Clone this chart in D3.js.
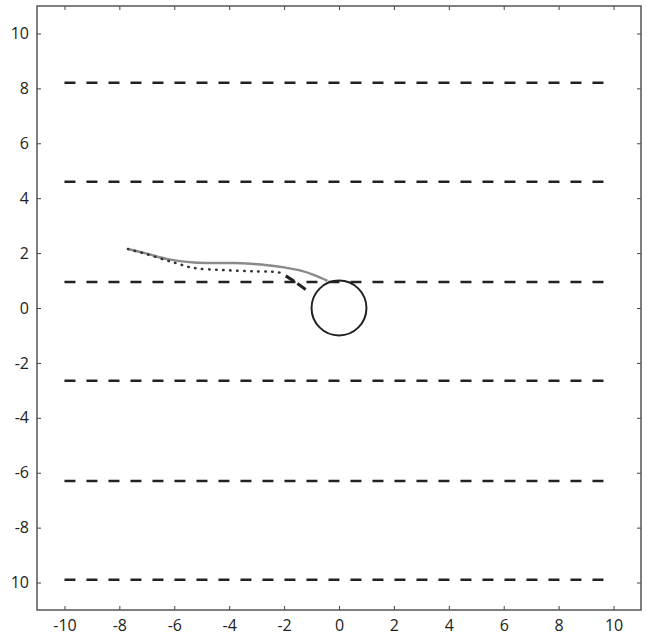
<!DOCTYPE html>
<meta charset="utf-8">
<style>
  html, body { margin: 0; padding: 0; background: #fff; }
  .tick text { font-family: "Open Sans", "Noto Sans", sans-serif; font-size: 16px; fill: #222; }
</style>
<body>
<script src="https://cdn.jsdelivr.net/npm/d3@7"></script>
<script>

  var width = 647, height = 637;

  // tick values / labels
  var xTicks = [-10, -8, -6, -4, -2, 0, 2, 4, 6, 8, 10];
  var yTicks = [10, 8, 6, 4, 2, 0, -2, -4, -6, -8, -10];
  var yTickLabels = ["10", "8", "6", "4", "2", "0", "-2", "-4", "-6", "-8", "10"];

  // lane markings (dashed horizontal lines)
  var laneY = [8.2, 4.6, 0.95, -2.65, -6.3, -9.9];
  var laneStart = -10, laneEnd = 10;

  // obstacle
  var obstacle = {x: 0, y: 0, r: 1};

  // solid grey path
  var pathX = [-7.69, -7.0, -6.24, -5.27, -4.5, -3.82, -3.2, -2.61, -2.0, -1.39, -0.9, -0.42];
  var pathY = [2.15, 1.98, 1.78, 1.66, 1.64, 1.64, 1.61, 1.56, 1.48, 1.36, 1.2, 0.99];

  // dotted path
  var dotX = [-7.69, -7.0, -6.3, -5.88, -5.5, -5.15, -4.42, -3.69, -2.96, -2.4, -2.0];
  var dotY = [2.15, 1.96, 1.74, 1.62, 1.5, 1.44, 1.39, 1.36, 1.33, 1.32, 1.26];

  // short dark dashed piece
  var dashX = [-1.94, -1.6, -1.15];
  var dashY = [1.17, 0.95, 0.63];

  var svg = d3.select("body").append("svg")
      .attr("width", width)
      .attr("height", height);

  var x = d3.scaleLinear().domain([-11, 11]).range([37, 641]);
  var y = d3.scaleLinear().domain([-11, 11]).range([610, 6]);

  /* axes with inward ticks on all four sides */
  svg.append("g")
      .attr("transform", "translate(0," + y(-11) + ")")
      .call(d3.axisBottom(x).tickValues(xTicks).tickSizeInner(-4).tickSizeOuter(0).tickPadding(10)
            .tickFormat(d => String(d)))
      .call(g => g.select(".domain").remove());
  svg.append("g")
      .attr("transform", "translate(0," + y(11) + ")")
      .call(d3.axisTop(x).tickValues(xTicks).tickSizeInner(-4).tickSizeOuter(0).tickFormat(""))
      .call(g => g.select(".domain").remove());
  svg.append("g")
      .attr("transform", "translate(" + x(-11) + ",0)")
      .call(d3.axisLeft(y).tickValues(yTicks).tickSizeInner(-4).tickSizeOuter(0).tickPadding(8)
            .tickFormat((d, i) => yTickLabels[i]))
      .call(g => g.select(".domain").remove());
  svg.append("g")
      .attr("transform", "translate(" + x(11) + ",0)")
      .call(d3.axisRight(y).tickValues(yTicks).tickSizeInner(-4).tickSizeOuter(0).tickFormat(""))
      .call(g => g.select(".domain").remove());

  svg.selectAll(".tick line").attr("stroke", "#444").attr("stroke-width", 1);

  svg.append("rect")
      .attr("x", x(-11)).attr("y", y(11))
      .attr("width", x(11) - x(-11)).attr("height", y(-11) - y(11))
      .attr("fill", "none")
      .attr("stroke", "#555")
      .attr("stroke-width", 1.5);

  /* lanes */
  svg.selectAll(".lane")
      .data(laneY)
      .enter().append("line")
      .attr("class", "lane")
      .attr("x1", x(laneStart)).attr("x2", x(laneEnd))
      .attr("y1", d => y(d)).attr("y2", d => y(d))
      .attr("stroke", "#222")
      .attr("stroke-width", 2.5)
      .attr("stroke-dasharray", "11,11");

  /* obstacle circle */
  svg.append("circle")
      .attr("cx", x(obstacle.x)).attr("cy", y(obstacle.y))
      .attr("r", x(obstacle.r) - x(0))
      .attr("fill", "none")
      .attr("stroke", "#222")
      .attr("stroke-width", 2);

  var line = d3.line().curve(d3.curveCatmullRom)
      .x(d => x(d[0])).y(d => y(d[1]));

  svg.append("path")
      .datum(d3.zip(pathX, pathY))
      .attr("d", line)
      .attr("fill", "none")
      .attr("stroke", "#8a8a8a")
      .attr("stroke-width", 2.5);

  svg.append("path")
      .datum(d3.zip(dotX, dotY))
      .attr("d", line)
      .attr("fill", "none")
      .attr("stroke", "#333")
      .attr("stroke-width", 2.5)
      .attr("stroke-linecap", "round")
      .attr("stroke-dasharray", "0.5,6.5");

  svg.append("path")
      .datum(d3.zip(dashX, dashY))
      .attr("d", line)
      .attr("fill", "none")
      .attr("stroke", "#222")
      .attr("stroke-width", 3)
      .attr("stroke-dasharray", "10,4");

</script>
</body>
